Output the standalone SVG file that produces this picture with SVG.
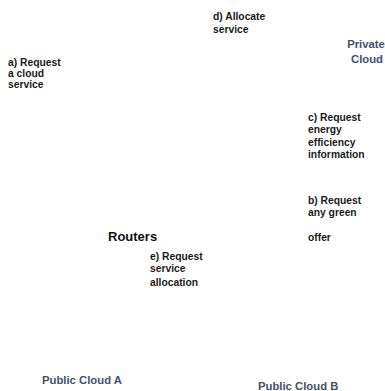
<svg xmlns="http://www.w3.org/2000/svg" width="385" height="391" viewBox="0 0 385 391">
<style>
.lbl{font-family:"Liberation Sans",Arial,sans-serif;font-weight:bold;font-size:10.3px;fill:#1a1a1a}
.cloud{font-family:"Liberation Sans",Arial,sans-serif;font-weight:bold;font-size:11.3px;fill:#3F5170}
.router{font-family:"Liberation Sans",Arial,sans-serif;font-weight:bold;font-size:13px;fill:#111}
</style>
<rect width="385" height="391" fill="#ffffff"/>
<g id="connectors"></g>
<g id="private-cloud">
<text class="cloud" x="366" y="48" text-anchor="middle">Private</text>
<text class="cloud" x="367" y="63" text-anchor="middle">Cloud</text>
</g>
<g id="public-cloud-a"><text class="cloud" x="42" y="384">Public Cloud A</text></g>
<g id="public-cloud-b"><text class="cloud" x="258" y="390">Public Cloud B</text></g>
<g id="routers"><text class="router" x="108" y="241">Routers</text></g>
<g id="label-a">
<text class="lbl" x="8" y="66">a) Request</text>
<text class="lbl" x="8" y="77">a cloud</text>
<text class="lbl" x="8" y="88">service</text>
</g>
<g id="label-b">
<text class="lbl" x="308" y="204">b) Request</text>
<text class="lbl" x="308" y="216">any green</text>
<text class="lbl" x="308" y="241">offer</text>
</g>
<g id="label-c">
<text class="lbl" x="308" y="121">c) Request</text>
<text class="lbl" x="308" y="133">energy</text>
<text class="lbl" x="308" y="146">efficiency</text>
<text class="lbl" x="308" y="158">information</text>
</g>
<g id="label-d">
<text class="lbl" x="213" y="20">d) Allocate</text>
<text class="lbl" x="213" y="33">service</text>
</g>
<g id="label-e">
<text class="lbl" x="150" y="260">e) Request</text>
<text class="lbl" x="150" y="272">service</text>
<text class="lbl" x="150" y="286">allocation</text>
</g>
</svg>
